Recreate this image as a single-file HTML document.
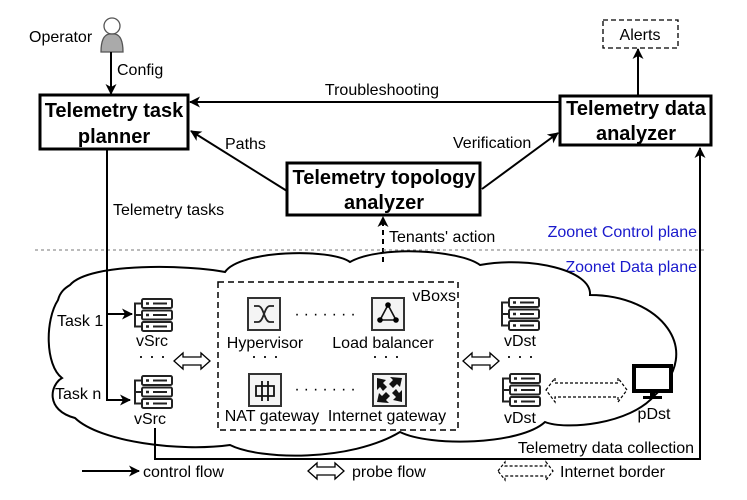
<!DOCTYPE html>
<html><head><meta charset="utf-8"><style>
html,body{margin:0;padding:0;background:#fff;}
svg{display:block;font-family:"Liberation Sans",Arial,sans-serif;}
</style></head><body>
<svg width="747" height="500" viewBox="0 0 747 500" xmlns="http://www.w3.org/2000/svg">
<defs>
<marker id="ah" markerWidth="11" markerHeight="11" refX="10" refY="5.5" orient="auto" markerUnits="userSpaceOnUse">
<path d="M0,0 L11,5.5 L0,11 L3,5.5 Z" fill="#000"/></marker>
<g id="srv" fill="#fff" stroke="#222" stroke-width="2">
<rect x="9" y="0" width="30" height="9" rx="1.5"/>
<rect x="9" y="11.5" width="30" height="9" rx="1.5"/>
<rect x="9" y="23" width="30" height="9" rx="1.5"/>
<path d="M9,4.5 H2 V27.5 H9 M2,16 H9" fill="none"/>
<line x1="13" y1="4.5" x2="16" y2="4.5" stroke-width="2.5"/><line x1="20" y1="4.5" x2="34" y2="4.5"/>
<line x1="13" y1="16" x2="16" y2="16" stroke-width="2.5"/><line x1="20" y1="16" x2="34" y2="16"/>
<line x1="13" y1="27.5" x2="16" y2="27.5" stroke-width="2.5"/><line x1="20" y1="27.5" x2="34" y2="27.5"/>
</g>
<path id="harrow" d="M0,0 L9,-8 L9,-4 L27,-4 L27,-8 L36,0 L27,8 L27,4 L9,4 L9,8 Z" fill="#fff" stroke="#000" stroke-width="1.3"/>
</defs>

<!-- Operator -->
<circle cx="112" cy="26" r="8" fill="#fff" stroke="#555" stroke-width="1.3"/>
<path d="M101,52 C101,40 104,35 109,34 L115,34 C120,35 123,40 123,52 Z" fill="#aaa" stroke="#555" stroke-width="1.3"/>
<text x="29" y="42" font-size="16">Operator</text>
<line x1="111" y1="52" x2="111" y2="94" stroke="#000" stroke-width="2" marker-end="url(#ah)"/>
<text x="117" y="75" font-size="16">Config</text>

<!-- Planner -->
<rect x="40" y="95" width="148" height="54" fill="#fff" stroke="#000" stroke-width="3"/>
<text x="114" y="117" font-size="20" font-weight="bold" text-anchor="middle">Telemetry task</text>
<text x="114" y="143" font-size="20" font-weight="bold" text-anchor="middle">planner</text>

<!-- Data analyzer -->
<rect x="560" y="96" width="151" height="49" fill="#fff" stroke="#000" stroke-width="3"/>
<text x="636" y="115" font-size="20" font-weight="bold" text-anchor="middle">Telemetry data</text>
<text x="636" y="140" font-size="20" font-weight="bold" text-anchor="middle">analyzer</text>

<!-- Alerts -->
<rect x="603" y="20" width="75" height="28" fill="#fff" stroke="#000" stroke-width="1.3" stroke-dasharray="5,3"/>
<text x="640" y="40" font-size="16" text-anchor="middle">Alerts</text>
<line x1="638" y1="95" x2="638" y2="49" stroke="#000" stroke-width="2" marker-end="url(#ah)"/>

<!-- Troubleshooting -->
<line x1="560" y1="102" x2="190" y2="102" stroke="#000" stroke-width="2" marker-end="url(#ah)"/>
<text x="382" y="95" font-size="16" text-anchor="middle">Troubleshooting</text>

<!-- Topology -->
<rect x="287" y="163" width="193" height="52" fill="#fff" stroke="#000" stroke-width="3"/>
<text x="384" y="184" font-size="20" font-weight="bold" text-anchor="middle">Telemetry topology</text>
<text x="384" y="209" font-size="20" font-weight="bold" text-anchor="middle">analyzer</text>
<line x1="287" y1="191" x2="191" y2="131" stroke="#000" stroke-width="2" marker-end="url(#ah)"/>
<text x="225" y="149" font-size="16">Paths</text>
<line x1="482" y1="189" x2="558" y2="133" stroke="#000" stroke-width="2" marker-end="url(#ah)"/>
<text x="453" y="148" font-size="16">Verification</text>
<line x1="383" y1="262" x2="383" y2="217" stroke="#000" stroke-width="2" stroke-dasharray="5,4" marker-end="url(#ah)"/>
<text x="389" y="242" font-size="16">Tenants' action</text>

<!-- plane divider -->
<line x1="35" y1="250" x2="705" y2="250" stroke="#777" stroke-width="1" stroke-dasharray="3,3"/>
<text x="697" y="237" font-size="16" fill="#1a1acc" text-anchor="end">Zoonet Control plane</text>
<text x="697" y="272" font-size="16" fill="#1a1acc" text-anchor="end">Zoonet Data plane</text>

<!-- Cloud -->
<path d="M70,285 C90,262 190,265 225,272 C240,250 330,248 350,262 C380,245 460,250 480,265 C530,256 592,270 590,295 C660,295 705,350 655,395 C630,425 565,430 545,422 C520,445 430,447 400,432 C350,462 260,460 230,445 C180,452 100,442 75,418 C45,410 50,385 62,378 C45,365 45,320 58,300 C60,292 65,288 70,285 Z" fill="none" stroke="#000" stroke-width="2"/>

<!-- tasks line -->
<line x1="107" y1="149" x2="107" y2="400" stroke="#000" stroke-width="2"/>
<text x="113" y="215" font-size="16">Telemetry tasks</text>
<line x1="106" y1="314" x2="132" y2="314" stroke="#000" stroke-width="2" marker-end="url(#ah)"/>
<line x1="106" y1="400" x2="130" y2="400" stroke="#000" stroke-width="2" marker-end="url(#ah)"/>
<text x="57" y="326" font-size="16">Task 1</text>
<text x="55" y="399" font-size="16">Task n</text>

<use href="#srv" x="133" y="299"/>
<use href="#srv" x="133" y="376"/>
<text x="152" y="346" font-size="16" text-anchor="middle">vSrc</text>
<text x="150" y="424" font-size="16" text-anchor="middle">vSrc</text>
<text x="152" y="362" font-size="18" text-anchor="middle">· · ·</text>
<use href="#harrow" x="174" y="361"/>

<!-- vBoxs -->
<rect x="218" y="282" width="240" height="148" fill="none" stroke="#000" stroke-width="1.5" stroke-dasharray="6,4"/>
<text x="456" y="301" font-size="16" text-anchor="end">vBoxs</text>

<!-- Hypervisor icon -->
<rect x="248" y="298" width="32" height="32" fill="#f4f4f4" stroke="#333" stroke-width="2"/>
<path d="M254,306 H258 C264,306 264,322 270,322 H274 M254,322 H258 C264,322 264,306 270,306 H274" fill="none" stroke="#222" stroke-width="1.8"/>
<!-- LB icon -->
<rect x="372" y="298" width="32" height="32" fill="#f4f4f4" stroke="#333" stroke-width="2"/>
<path d="M388,305 L380,320 L396,320 Z" fill="none" stroke="#111" stroke-width="1.6"/>
<circle cx="388" cy="305" r="2.8"/><circle cx="380" cy="320" r="2.8"/><circle cx="396" cy="320" r="2.8"/>
<!-- NAT icon -->
<rect x="249" y="374" width="32" height="32" fill="#f4f4f4" stroke="#333" stroke-width="2"/>
<path d="M256,386 H274 V396 H256 Z M262,381 V401 M268,381 V401" fill="none" stroke="#111" stroke-width="1.8"/>
<!-- IG icon -->
<rect x="373" y="374" width="33" height="32" fill="#f4f4f4" stroke="#333" stroke-width="2"/>
<path d="M377,378 L386,380 L383,383 L387,387 L383,391 L380,387 L377,390 Z M402,378 L400,387 L397,384 L393,388 L389,384 L393,380 L390,377 Z M377,402 L379,393 L382,396 L386,392 L390,396 L386,400 L389,403 Z M402,402 L393,400 L396,397 L392,393 L396,389 L399,393 L402,390 Z" fill="#111"/>

<text x="265" y="348" font-size="16" text-anchor="middle">Hypervisor</text>
<text x="383" y="348" font-size="16" text-anchor="middle">Load balancer</text>
<text x="272" y="421" font-size="16" text-anchor="middle">NAT gateway</text>
<text x="387" y="421" font-size="16" text-anchor="middle">Internet gateway</text>
<text x="327" y="319" font-size="16" text-anchor="middle" letter-spacing="4">·······</text>
<text x="327" y="394" font-size="16" text-anchor="middle" letter-spacing="4">·······</text>
<text x="265" y="362" font-size="18" text-anchor="middle">· · ·</text>
<text x="386" y="362" font-size="18" text-anchor="middle">· · ·</text>

<use href="#harrow" x="463" y="361"/>

<use href="#srv" x="500" y="298"/>
<use href="#srv" x="501" y="374"/>
<text x="520" y="346" font-size="16" text-anchor="middle">vDst</text>
<text x="520" y="423" font-size="16" text-anchor="middle">vDst</text>
<text x="520" y="362" font-size="18" text-anchor="middle">· · ·</text>

<!-- dashed double arrow -->
<path d="M546,390 L555,378 L555,383 L618,383 L618,378 L627,390 L618,402 L618,397 L555,397 L555,402 Z" fill="#fff" stroke="#000" stroke-width="1.2" stroke-dasharray="3,2"/>

<!-- pDst -->
<rect x="634" y="366" width="37" height="25" fill="#fff" stroke="#000" stroke-width="4"/>
<rect x="650" y="392" width="5" height="4" fill="#000"/>
<rect x="643" y="396" width="19" height="3" fill="#000"/>
<text x="654" y="419" font-size="16" text-anchor="middle">pDst</text>

<!-- data collection -->
<polyline points="155,428 155,459 700,459 700,148" fill="none" stroke="#000" stroke-width="2" marker-end="url(#ah)"/>
<text x="694" y="453" font-size="16" text-anchor="end">Telemetry data collection</text>

<!-- legend -->
<line x1="82" y1="471" x2="139" y2="471" stroke="#000" stroke-width="2" marker-end="url(#ah)"/>
<text x="143" y="477" font-size="16">control flow</text>
<use href="#harrow" x="308" y="471"/>
<text x="352" y="477" font-size="16">probe flow</text>
<path d="M498,471 L505,462 L505,466 L546,466 L546,462 L553,471 L546,480 L546,476 L505,476 L505,480 Z" fill="#fff" stroke="#000" stroke-width="1.2" stroke-dasharray="3,2"/>
<text x="560" y="477" font-size="16">Internet border</text>
</svg>
</body></html>
